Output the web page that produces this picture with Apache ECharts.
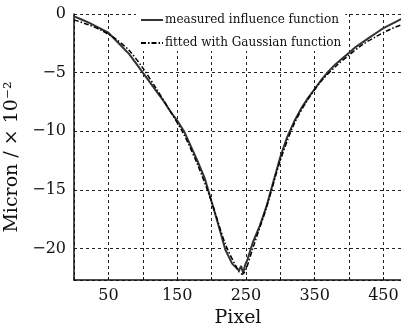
<!DOCTYPE html>
<html>
<head>
<meta charset="utf-8">
<script src="https://cdn.jsdelivr.net/npm/echarts@6/dist/echarts.min.js"></script>
<style>
    html, body { margin: 0; padding: 0; background: #fff; }
    #chart { width: 401px; height: 329px; }
</style>
</head>
<body>
<div id="chart"></div>
<script>
// 测量的影响函数
const measuredX = [0, 10, 20, 30, 40, 50, 60, 70, 80, 90, 100, 110, 120, 130, 140, 150, 160, 170, 180, 190,
    200, 210, 220, 230, 235, 240, 243, 246, 249, 252, 260, 270, 280, 290, 300, 310, 320, 330, 340, 350,
    360, 370, 380, 390, 400, 410, 420, 430, 440, 450, 460, 470, 477];
const measuredY = [-0.2, -0.45, -0.7, -1.0, -1.3, -1.6, -2.2, -2.8, -3.4, -4.2, -5.0, -5.8, -6.6, -7.4, -8.3, -9.1, -10.0, -11.3, -12.6, -14.0,
    -16.0, -18.0, -20.1, -21.3, -21.6, -21.9, -21.5, -22.1, -21.4, -21.0, -19.5, -18.1, -16.4, -14.3, -12.2, -10.5, -9.2, -8.1, -7.2, -6.4,
    -5.6, -4.9, -4.3, -3.8, -3.3, -2.8, -2.4, -2.0, -1.6, -1.2, -0.9, -0.6, -0.4];

// 高斯拟合
const fittedX = [0, 20, 40, 60, 80, 100, 120, 140, 160, 180, 200, 220, 240, 245, 250, 260, 280, 300, 320, 340,
    360, 380, 400, 420, 440, 460, 477];
const fittedY = [-0.5, -0.9, -1.4, -2.1, -3.1, -4.6, -6.4, -8.3, -10.3, -12.9, -16.0, -19.6, -22.0, -22.2, -21.8, -20.0, -16.5, -12.5, -9.4, -7.3,
    -5.7, -4.5, -3.5, -2.6, -1.9, -1.3, -0.9];

const xLabels = [50, 150, 250, 350, 450];
const yLabels = [0, -5, -10, -15, -20];

const serif = 'DejaVu Serif';

function initChart() {
    const chart = echarts.init(document.getElementById('chart'));
    chart.setOption({
        animation: false,
        backgroundColor: '#fff',
        grid: {
            left: 74,
            right: -1,
            top: 14,
            bottom: 49,
            outerBoundsMode: 'none'
        },
        legend: {
            orient: 'vertical',
            left: 136,
            top: 12,
            itemWidth: 22,
            itemHeight: 10,
            itemGap: 11,
            padding: [2, 4, 2, 4],
            backgroundColor: '#fff',
            itemStyle: { opacity: 0 },
            textStyle: {
                fontFamily: serif,
                fontSize: 12,
                color: '#111',
                padding: [0, 0, 0, -3]
            },
            data: ['measured influence function', 'fitted with Gaussian function']
        },
        xAxis: {
            type: 'value',
            min: 0,
            max: 477,
            interval: 50,
            name: 'Pixel',
            nameLocation: 'middle',
            nameGap: 28,
            nameTextStyle: { fontFamily: serif, fontSize: 19, color: '#111' },
            axisLine: { show: true, onZero: false, lineStyle: { color: '#111', width: 1.5 } },
            axisTick: { show: true, inside: true, length: 3, lineStyle: { color: '#111' } },
            axisLabel: {
                fontFamily: serif,
                fontSize: 16,
                color: '#111',
                margin: 8,
                showMaxLabel: false,
                formatter: v => xLabels.includes(v) ? String(v) : ''
            },
            splitLine: { show: true, lineStyle: { color: '#222', type: [3, 3], width: 1 } }
        },
        yAxis: {
            type: 'value',
            min: -22.7,
            max: 0,
            splitNumber: 5,
            name: 'Micron / × 10⁻²',
            nameLocation: 'middle',
            nameRotate: 90,
            nameGap: 52,
            nameTextStyle: { fontFamily: serif, fontSize: 19, color: '#111', padding: [0, 20, 0, 0] },
            axisLine: { show: true, onZero: false, lineStyle: { color: '#111', width: 1.5 } },
            axisTick: { show: false },
            axisLabel: {
                fontFamily: serif,
                fontSize: 16,
                color: '#111',
                margin: 8,
                showMinLabel: false,
                formatter: v => yLabels.includes(v) ? (v < 0 ? '−' + Math.abs(v) : String(v)) : ''
            },
            splitLine: { show: true, lineStyle: { color: '#222', type: [3, 3], width: 1 } }
        },
        series: [{
            name: 'measured influence function',
            type: 'line',
            symbol: 'none',
            color: '#444',
            data: measuredX.map((x, i) => [x, measuredY[i]]),
            lineStyle: { color: '#333', width: 2 },
            z: 3
        }, {
            name: 'fitted with Gaussian function',
            type: 'line',
            symbol: 'none',
            color: '#000',
            smooth: 0.3,
            data: fittedX.map((x, i) => [x, fittedY[i]]),
            lineStyle: { color: '#000', width: 1.5, type: [5, 2, 1.5, 2] },
            z: 4
        }]
    });
}

initChart();
</script>
</body>
</html>
